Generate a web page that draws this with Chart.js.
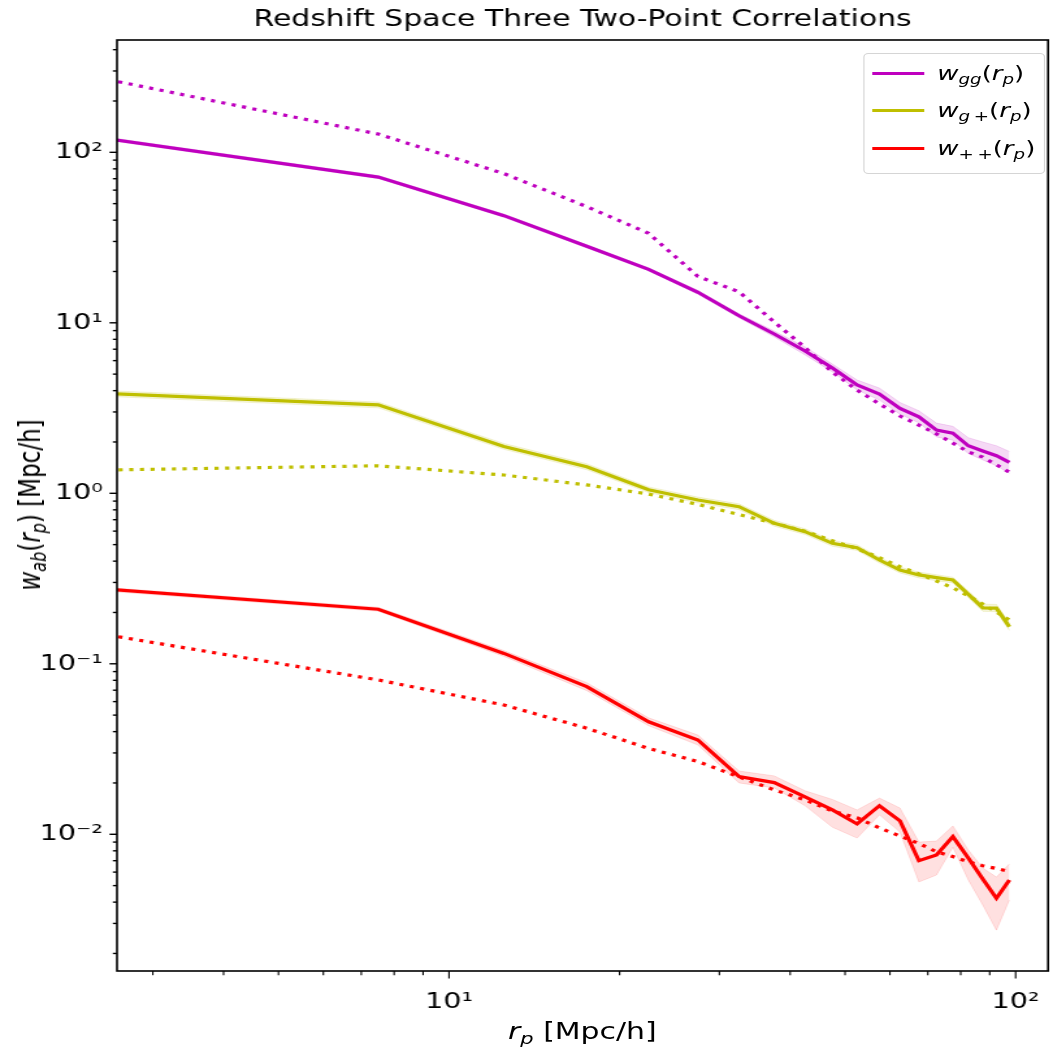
<!DOCTYPE html>
<html>
<head>
<meta charset="utf-8">
<script src="https://cdn.jsdelivr.net/npm/chart.js@4.4.1/dist/chart.umd.min.js"></script>
<style>
  body { margin: 0; background: #fff; }
  #wrap { position: absolute; left: 0; top: 0; width: 809px; height: 1051px;
          transform: scaleX(1.3); transform-origin: 0 0; font-family: "DejaVu Sans", sans-serif; }
  #c { position: absolute; left: 0; top: 0; }
  .m { font-style: italic; }
  sub { font-size: 0.7em; vertical-align: -0.28em; line-height: 0; }
  .lbl { position: absolute; white-space: nowrap; font-size: 23px; color: #000; }
  #legend { position: absolute; left: 664px; top: 53px; width: 138px; height: 119px;
            border: 1px solid #d5d5d5; border-radius: 4px; background: rgba(255,255,255,0.8); }
  .row { position: absolute; left: 0; height: 30px; width: 100%; }
  .row .ln { position: absolute; left: 6px; width: 40px; top: 13.5px; height: 3px; }
  .row .tx { position: absolute; left: 56px; top: 0; font-size: 20px; line-height: 30px; white-space: nowrap; }
</style>
</head>
<body>
<div id="wrap">
  <canvas id="c" width="809" height="1051"></canvas>
  <div class="lbl" id="ytitle" style="left:23px; top:505px; transform:translate(-50%,-50%) rotate(-90deg);">
    <span class="m">w</span><sub class="m">ab</sub>(<span class="m">r</span><sub class="m">p</sub>) [Mpc/h]</div>
  <div class="lbl" id="xtitle" style="left:448px; top:1031px; transform:translate(-50%,-50%);">
    <span class="m">r</span><sub class="m">p</sub> [Mpc/h]</div>
  <div id="legend">
    <div class="row" style="top:4px"><div class="ln" style="background:#bf00bf"></div>
      <div class="tx"><span class="m">w</span><sub class="m">gg</sub>(<span class="m">r</span><sub class="m">p</sub>)</div></div>
    <div class="row" style="top:41px"><div class="ln" style="background:#bfbf00"></div>
      <div class="tx"><span class="m">w</span><sub><span class="m">g</span>&thinsp;+</sub>(<span class="m">r</span><sub class="m">p</sub>)</div></div>
    <div class="row" style="top:79px"><div class="ln" style="background:#ff0000"></div>
      <div class="tx"><span class="m">w</span><sub>+&thinsp;+</sub>(<span class="m">r</span><sub class="m">p</sub>)</div></div>
  </div>
</div>
<script>
// bin centres [Mpc/h]
var rp = [2.5, 7.5, 12.5, 17.5, 22.5, 27.5, 32.5, 37.5, 42.5, 47.5, 52.5, 57.5, 62.5, 67.5, 72.5, 77.5, 82.5, 87.5, 92.5, 97.5];

// w_gg measured, band and model
var wgg      = [120, 71.6, 42.5, 28.1, 20.6, 15.1, 11.0, 8.6, 6.84, 5.43, 4.32, 3.82, 3.15, 2.81, 2.35, 2.25, 1.90, 1.77, 1.66, 1.52];
var wggLo    = [117.6, 70.1, 41.6, 27.5, 20.2, 14.7, 10.7, 8.26, 6.48, 5.15, 4.04, 3.52, 2.91, 2.59, 2.14, 2.05, 1.71, 1.57, 1.45, 1.31];
var wggHi    = [122.5, 73.1, 43.4, 28.7, 21.0, 15.5, 11.3, 8.95, 7.22, 5.73, 4.62, 4.14, 3.41, 3.05, 2.58, 2.47, 2.12, 2.00, 1.90, 1.76];
var wggModel = [267, 128, 75, 48, 33.5, 18.7, 15.2, 10.1, 7.16, 5.14, 4.03, 3.34, 2.84, 2.51, 2.23, 1.97, 1.75, 1.63, 1.47, 1.33];

// w_g+
var wgp      = [3.85, 3.30, 1.88, 1.43, 1.05, 0.914, 0.834, 0.667, 0.596, 0.509, 0.48, 0.406, 0.355, 0.332, 0.32, 0.31, 0.256, 0.213, 0.212, 0.165];
var wgpLo    = [3.70, 3.17, 1.81, 1.375, 1.01, 0.879, 0.802, 0.641, 0.573, 0.489, 0.462, 0.390, 0.341, 0.319, 0.307, 0.298, 0.245, 0.203, 0.202, 0.157];
var wgpHi    = [4.00, 3.43, 1.96, 1.49, 1.09, 0.95, 0.867, 0.694, 0.620, 0.529, 0.499, 0.422, 0.369, 0.345, 0.333, 0.322, 0.267, 0.224, 0.223, 0.174];
var wgpModel = [1.37, 1.45, 1.28, 1.12, 0.99, 0.86, 0.75, 0.667, 0.6, 0.527, 0.473, 0.419, 0.371, 0.337, 0.306, 0.279, 0.25, 0.224, 0.201, 0.181];

// w_++
var wpp      = [0.2735, 0.209, 0.115, 0.0734, 0.0457, 0.0357, 0.0218, 0.0201, 0.0166, 0.0139, 0.0115, 0.0147, 0.0120, 0.0070, 0.00757, 0.00969, 0.00726, 0.00547, 0.00422, 0.0054];
var wppLo    = [0.266, 0.2035, 0.1105, 0.0696, 0.0433, 0.0334, 0.0200, 0.0187, 0.0147, 0.0110, 0.0095, 0.0130, 0.0103, 0.00525, 0.00577, 0.0084, 0.0054, 0.00385, 0.00274, 0.00412];
var wppHi    = [0.280, 0.2145, 0.1195, 0.0775, 0.0482, 0.0382, 0.0235, 0.0220, 0.0180, 0.0160, 0.0139, 0.0163, 0.01426, 0.0090, 0.00912, 0.0112, 0.0081, 0.00634, 0.00561, 0.0067];
var wppModel = [0.1475, 0.0804, 0.0573, 0.0419, 0.0319, 0.0267, 0.0217, 0.0182, 0.0159, 0.0137, 0.0125, 0.0109, 0.00977, 0.00883, 0.0079, 0.0074, 0.0069, 0.00654, 0.0063, 0.00604];

// tick labels
var xTickVals = [10, 100];
var xTickLabels = ['10\u00b9', '10\u00b2'];
var yTickVals = [0.01, 0.1, 1, 10, 100];
var yTickLabels = ['10\u207b\u00b2', '10\u207b\u00b9', '10\u2070', '10\u00b9', '10\u00b2'];

function pts(arr){
  return rp.map(function(x, i){ return {x: x, y: arr[i]}; });
}
function tickLabel(vals, labels){
  return function(v){
    for (var i = 0; i < vals.length; i++) {
      if (Math.abs(Math.log10(vals[i]) - Math.log10(v)) < 1e-6) return labels[i];
    }
    return '';
  };
}
function line(data, color, dotted){
  return {data: pts(data), borderColor: color, borderWidth: 3.2, pointRadius: 0,
          borderDash: dotted ? [3.2, 5] : [], borderCapStyle: 'butt', fill: false, order: 0, clip: 0};
}
function band(data, color, fill){
  return {data: pts(data), borderColor: color, backgroundColor: color, borderWidth: 1,
          pointRadius: 0, fill: fill, order: 1, clip: 0};
}

// frame and log ticks drawn from the chart's scales
var axesBox = {
  id: 'axesBox',
  afterDraw: function(chart){
    var ctx = chart.ctx, a = chart.chartArea, x = chart.scales.x, y = chart.scales.y;
    ctx.save();
    ctx.strokeStyle = '#000';
    for (var e = -3; e <= 2; e++) {
      for (var m = 1; m < 10; m++) {
        var v = m * Math.pow(10, e);
        var len = m === 1 ? 7.5 : 4.2;
        if (v >= y.min && v <= y.max) {
          var py = y.getPixelForValue(v);
          ctx.lineWidth = 1.4;
          ctx.beginPath(); ctx.moveTo(a.left - len / 1.3, py); ctx.lineTo(a.left, py); ctx.stroke();
        }
        if (v >= x.min && v <= x.max) {
          var px = x.getPixelForValue(v);
          ctx.lineWidth = 1.1;
          ctx.beginPath(); ctx.moveTo(px, a.bottom); ctx.lineTo(px, a.bottom + len); ctx.stroke();
        }
      }
    }
    ctx.lineWidth = 1.6;
    ctx.strokeRect(a.left, a.top, a.right - a.left, a.bottom - a.top);
    ctx.restore();
  }
};

var ctx = document.getElementById('c');
var chart = new Chart(ctx, {
  type: 'line',
  data: {
    datasets: [
      line(wgg, '#bf00bf', false),
      line(wggModel, '#bf00bf', true),
      line(wgp, '#bfbf00', false),
      line(wgpModel, '#bfbf00', true),
      line(wpp, '#ff0000', false),
      line(wppModel, '#ff0000', true),
      band(wggLo, 'rgba(191,0,191,0.15)', '+1'),
      band(wggHi, 'rgba(191,0,191,0.15)', false),
      band(wgpLo, 'rgba(191,191,0,0.15)', '+1'),
      band(wgpHi, 'rgba(191,191,0,0.15)', false),
      band(wppLo, 'rgba(255,0,0,0.12)', '+1'),
      band(wppHi, 'rgba(255,0,0,0.12)', false)
    ]
  },
  options: {
    responsive: false,
    animation: false,
    layout: {padding: {left: 0, right: 2.8, top: 0, bottom: 0}},
    plugins: {
      legend: {display: false},
      tooltip: {enabled: false},
      title: {
        display: true, fullSize: false,
        text: 'Redshift Space Three Two-Point Correlations',
        color: '#000',
        font: {family: 'DejaVu Sans', size: 23, weight: 'normal', lineHeight: 1.2},
        padding: {top: 6, bottom: 6.4}
      }
    },
    scales: {
      x: {
        type: 'logarithmic', min: 2.594, max: 114.1,
        grid: {display: false, drawTicks: false}, border: {display: false},
        ticks: {autoSkip: false, maxRotation: 0, minRotation: 0, padding: 18, color: '#000',
                font: {family: 'DejaVu Sans', size: 22}, callback: tickLabel(xTickVals, xTickLabels)},
        afterFit: function(s){ s.height = 80; s.paddingLeft = 0; s.paddingRight = 0; }
      },
      y: {
        type: 'logarithmic', min: 0.001578, max: 455.8,
        grid: {display: false, drawTicks: false}, border: {display: false},
        ticks: {autoSkip: false, padding: 11, color: '#000',
                font: {family: 'DejaVu Sans', size: 22}, callback: tickLabel(yTickVals, yTickLabels)},
        afterFit: function(s){ s.width = 90; s.paddingTop = 0; s.paddingBottom = 0; }
      }
    }
  },
  plugins: [axesBox]
});
</script>
</body>
</html>
